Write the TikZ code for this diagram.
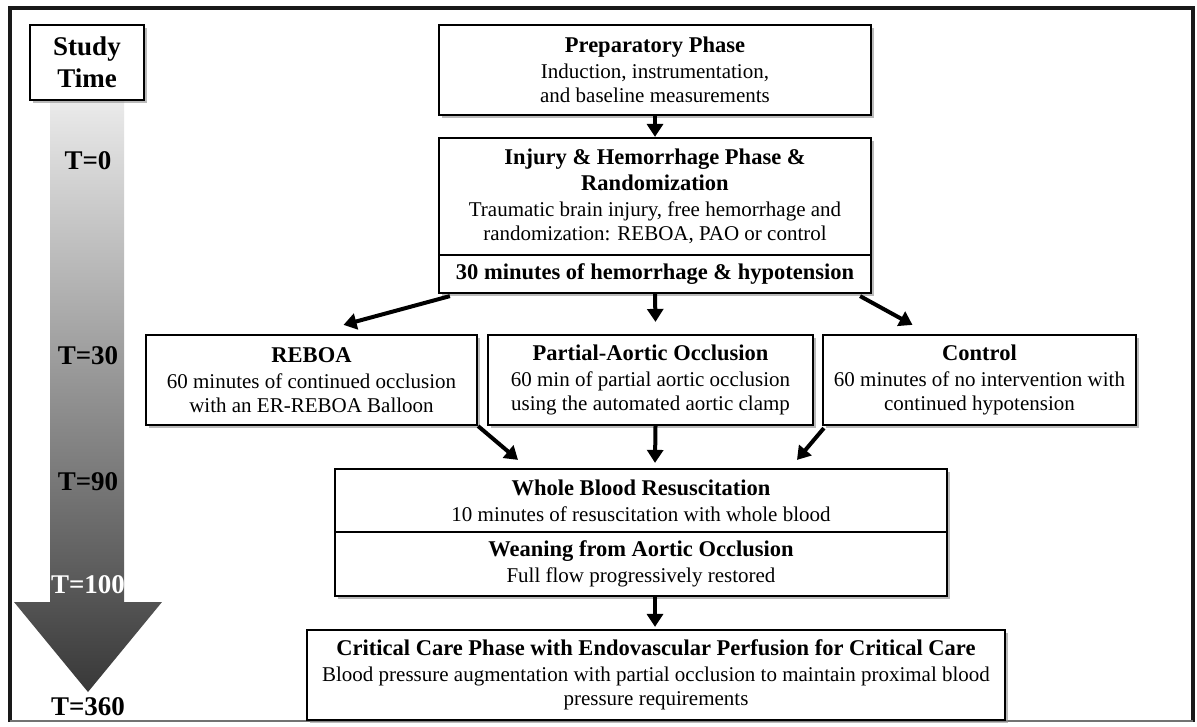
\documentclass[tikz,border=0pt]{standalone}
\usepackage{fontspec}
\setmainfont{Liberation Serif}
\usetikzlibrary{arrows.meta,shadows,calc}
\newcommand{\ttl}[1]{{\fontsize{22.5}{27}\selectfont\bfseries #1}}
\tikzset{
  box/.style={draw=black, line width=2.2pt, fill=white, align=center, inner sep=0pt,
    font=\fontsize{21}{24}\selectfont,
    drop shadow={shadow xshift=2.5pt, shadow yshift=-2.5pt, fill=black!45, opacity=0.6}},
  flow/.style={line width=4pt, -{Triangle[length=13pt,width=16pt]}},
  tlabel/.style={font=\fontsize{27}{30}\selectfont\bfseries, inner sep=0pt}
}
\begin{document}
\begin{tikzpicture}[x=1pt,y=-1pt]
\useasboundingbox (0,0) rectangle (1197,726);
\fill[white] (0,0) rectangle (1197,726);
% frame
\draw[line width=4pt, black!90] (9.5,722) -- (9.5,8) -- (1193,8) -- (1193,722);
\draw[line width=2pt, black!55] (9.5,721) -- (1193,721);
% time arrow
\shade[top color=black!8, bottom color=black!78]
  (50,100) -- (124,100) -- (124,602) -- (162,602) -- (88,692) -- (14,602) -- (50,602) -- cycle;
\node[box, minimum width=114, minimum height=75, font=\fontsize{27}{32}\selectfont\bfseries] (st) at (87,62.5) {Study\\Time};
\node[tlabel] (t0) at (88,161) {T=0};
\node[tlabel] (t30) at (88,356) {T=30};
\node[tlabel] (t90) at (88,482) {T=90};
\node[tlabel, text=white] (t100) at (88,585) {T=100};
\node[tlabel] (t360) at (88,707) {T=360};
% boxes
\node[box, minimum width=432, minimum height=90] (prep) at (655,70)
  {\ttl{Preparatory Phase}\\[2pt]Induction, instrumentation,\\and baseline measurements};
\node[box, minimum width=432, minimum height=117] (inj) at (655,196.5)
  {\ttl{Injury \& Hemorrhage Phase \&}\\[2pt]\ttl{Randomization}\\[2pt]Traumatic brain injury, free hemorrhage and\\randomization: REBOA, PAO or control};
\node[box, minimum width=432, minimum height=38] (inj2) at (655,274)
  {\ttl{30 minutes of hemorrhage \& hypotension}};
\node[box, minimum width=331, minimum height=90] (reboa) at (311.5,380)
  {\ttl{REBOA}\\[2pt]60 minutes of continued occlusion\\with an ER-REBOA Balloon};
\node[box, minimum width=325, minimum height=90] (pao) at (650.5,380)
  {\ttl{Partial-Aortic Occlusion}\\[2pt]60 min of partial aortic occlusion\\using the automated aortic clamp};
\node[box, minimum width=313, minimum height=90] (ctrl) at (979.5,380)
  {\ttl{Control}\\[2pt]60 minutes of no intervention with\\continued hypotension};
\node[box, minimum width=612, minimum height=63] (wb) at (641,500.5)
  {\ttl{Whole Blood Resuscitation}\\[2pt]10 minutes of resuscitation with whole blood};
\node[box, minimum width=612, minimum height=64] (wean) at (641,564)
  {\ttl{Weaning from Aortic Occlusion}\\[2pt]Full flow progressively restored};
\node[box, minimum width=698, minimum height=90] (crit) at (656,675)
  {\ttl{Critical Care Phase with Endovascular Perfusion for Critical Care}\\[2pt]Blood pressure augmentation with partial occlusion to maintain proximal blood\\pressure requirements};
% connectors
\draw[flow] (prep.south) -- (inj.north);
\draw[flow] ($(inj2.south west)+(12,2)$) -- ($(reboa.north)+(32,-9)$);
\draw[flow] (inj2.south) -- ($(pao.north)+(5,-12)$);
\draw[flow] ($(inj2.south east)+(-12,2)$) -- ($(ctrl.north)+(-67,-9)$);
\draw[flow] (reboa.south east) -- ($(wb.north)+(-123,-8)$);
\draw[flow] ($(pao.south)+(5,0)$) -- ($(wb.north)+(14,-5)$);
\draw[flow] ($(ctrl.south west)+(2,2)$) -- ($(wb.north)+(156,-8)$);
\draw[flow] ($(wean.south)+(14,0)$) -- ($(crit.north)+(-1,-2)$);
\end{tikzpicture}
\end{document}
